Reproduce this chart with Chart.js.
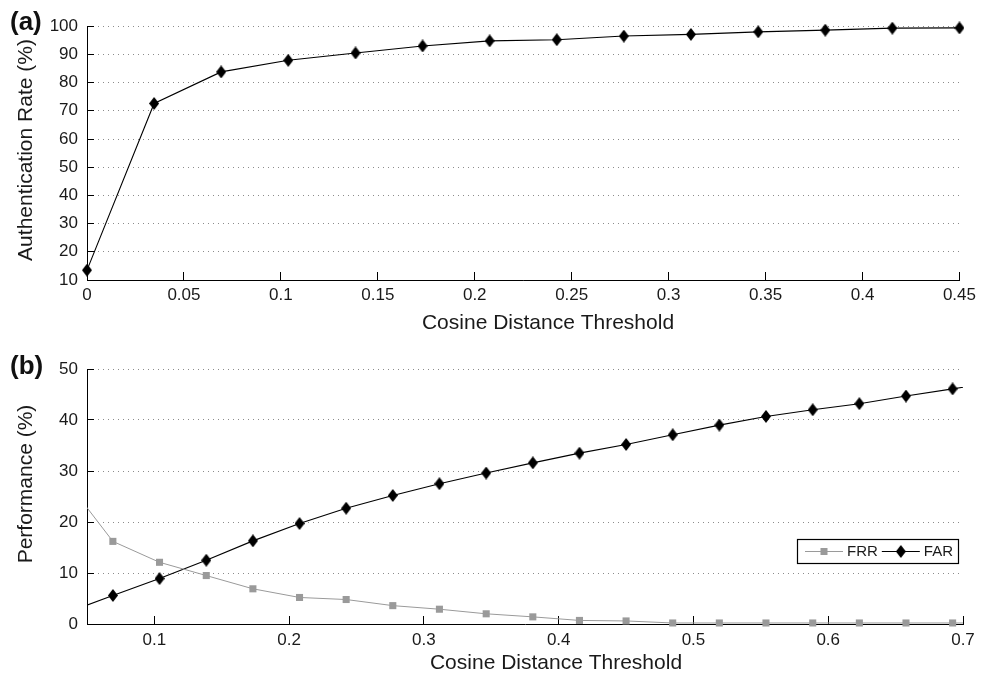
<!DOCTYPE html>
<html>
<head>
<meta charset="utf-8">
<script src="https://cdn.jsdelivr.net/npm/chart.js@4"></script>
<style>
  body { margin: 0; background: #fff; }
  #wrap { position: relative; width: 989px; height: 679px; }
  canvas { position: absolute; left: 0; }
</style>
</head>
<body>
<div id="wrap">
  <canvas id="graficoA" width="989" height="340" style="top:0"></canvas>
  <canvas id="graficoB" width="989" height="339" style="top:340px"></canvas>
</div>
<script>
// (a) taxa de autenticação x limiar
const limiaresA = [0, 0.0346, 0.0692, 0.1038, 0.1385, 0.1731, 0.2077, 0.2423, 0.2769, 0.3115, 0.3462, 0.3808, 0.4154, 0.45];
const taxaAutenticacao = [13.5, 72.6, 83.8, 87.9, 90.5, 93.0, 94.8, 95.2, 96.5, 97.1, 98.0, 98.6, 99.3, 99.4];
const ticksXA = [0, 0.05, 0.1, 0.15, 0.2, 0.25, 0.3, 0.35, 0.4, 0.45];
const ticksYA = [10, 20, 30, 40, 50, 60, 70, 80, 90, 100];

// (b) FRR / FAR x limiar (primeiro e último ponto ficam fora do eixo)
const limiaresB = [0.0346, 0.0692, 0.1038, 0.1385, 0.1731, 0.2077, 0.2423, 0.2769, 0.3115, 0.3462, 0.3808,
                   0.4154, 0.45, 0.4846, 0.5192, 0.5538, 0.5885, 0.6231, 0.6577, 0.6923, 0.7269];
const frr = [28.1, 16.2, 12.1, 9.5, 6.9, 5.2, 4.8, 3.6, 2.9, 2.0, 1.4, 0.7, 0.6, 0.2, 0.2, 0.2, 0.2, 0.2, 0.2, 0.2, 0.2];
const far = [2.2, 5.6, 8.9, 12.5, 16.3, 19.7, 22.7, 25.2, 27.5, 29.6, 31.6, 33.5, 35.2, 37.1, 39.0, 40.7, 42.0, 43.2, 44.7, 46.1, 47.5];
const ticksXB = [0.1, 0.2, 0.3, 0.4, 0.5, 0.6, 0.7];
const ticksYB = [0, 10, 20, 30, 40, 50];

const FONTE = '"Liberation Sans", Arial, Helvetica, sans-serif';
Chart.defaults.font.family = FONTE;
Chart.defaults.color = '#1a1a1a';

// marcador em losango (mais alto que largo)
function losango(larg, alt, cor) {
    const c = document.createElement('canvas');
    c.width = larg; c.height = alt;
    const g = c.getContext('2d');
    g.fillStyle = cor;
    g.beginPath();
    g.moveTo(larg / 2, 0); g.lineTo(larg, alt / 2); g.lineTo(larg / 2, alt); g.lineTo(0, alt / 2);
    g.closePath(); g.fill();
    return c;
}
const diamante = losango(10, 13, '#000');

function pontos(xs, ys) { return xs.map((x, i) => ({ x: x, y: ys[i] })); }
function fixarTicks(lista) { return s => { s.ticks = lista.map(v => ({ value: v })); }; }

function eixoX(min, max, lista, altura, padTicks) {
    return {
        type: 'linear', min: min, max: max,
        afterBuildTicks: fixarTicks(lista),
        afterFit: s => { s.height = altura; },
        border: { color: '#000', width: 1 },
        grid: { drawOnChartArea: false, drawTicks: true, tickLength: -8, tickColor: '#000', tickWidth: 1 },
        ticks: { padding: padTicks, font: { size: 17 }, maxRotation: 0, callback: v => String(+v.toFixed(3)) },
        title: { display: false }
    };
}
function eixoY(min, max, lista) {
    return {
        min: min, max: max,
        afterBuildTicks: fixarTicks(lista),
        afterFit: s => { s.width = 87; },
        border: { color: '#000', width: 1, dash: [1, 4] },
        grid: { color: '#8c8c8c', drawTicks: true, tickLength: -7,
                tickColor: '#000', tickBorderDash: [], tickWidth: 1 },
        ticks: { padding: 16, font: { size: 17 } }
    };
}

// rótulo do painel e títulos dos eixos
const textosPlugin = {
    id: 'textos',
    afterDraw(chart, args, o) {
        const c = chart.ctx;
        c.save();
        c.fillStyle = '#111';
        c.textBaseline = 'middle';
        c.textAlign = 'left';
        c.font = 'bold 26px ' + FONTE;
        c.fillText(o.painel, 10, o.painelY);
        c.font = '21px ' + FONTE;
        c.fillStyle = '#1a1a1a';
        c.textAlign = 'center';
        c.fillText(o.tituloX, o.tituloXx, o.tituloXy);
        c.translate(26, o.tituloYy);
        c.rotate(-Math.PI / 2);
        c.fillText(o.tituloY, 0, 0);
        c.restore();
    }
};

// legenda em linha, dentro da área do gráfico
const legendaPlugin = {
    id: 'legendaInterna',
    afterDraw(chart, args, o) {
        if (!o.mostrar) return;
        const c = chart.ctx;
        c.save();
        c.fillStyle = '#fff';
        c.fillRect(o.x, o.y, o.w, o.h);
        c.strokeStyle = '#000';
        c.lineWidth = 1.2;
        c.strokeRect(o.x + 0.5, o.y + 0.5, o.w, o.h);
        c.font = '15px ' + FONTE;
        c.textBaseline = 'middle';
        const ym = o.y + o.h / 2 + 0.5;
        let x = o.x + 8;
        chart.data.datasets.forEach(ds => {
            c.strokeStyle = ds.borderColor;
            c.lineWidth = ds.borderWidth;
            c.beginPath(); c.moveTo(x, ym); c.lineTo(x + 38, ym); c.stroke();
            const mx = x + 19;
            if (ds.pointStyle === 'rect') {
                c.fillStyle = ds.pointBackgroundColor;
                c.fillRect(mx - 3.5, ym - 3.5, 7, 7);
            } else {
                c.drawImage(ds.pointStyle, mx - ds.pointStyle.width / 2, ym - ds.pointStyle.height / 2);
            }
            c.fillStyle = '#1a1a1a';
            c.fillText(ds.label, x + 42, ym);
            x += 42 + c.measureText(ds.label).width + 4;
        });
        c.restore();
    }
};

const graficoA = new Chart(document.getElementById('graficoA').getContext('2d'), {
    type: 'line',
    data: {
        datasets: [{
            label: 'Authentication Rate',
            data: pontos(limiaresA, taxaAutenticacao),
            borderColor: '#000',
            borderWidth: 1.1,
            pointStyle: diamante,
            pointBackgroundColor: '#000',
            pointRadius: 5,
            tension: 0,
            clip: 8
        }]
    },
    options: {
        responsive: false,
        animation: false,
        events: [],
        layout: { padding: { top: 25, right: 26, left: 0, bottom: 0 } },
        scales: {
            x: eixoX(0, 0.45, ticksXA, 60, 13),
            y: eixoY(10, 100, ticksYA)
        },
        plugins: {
            legend: { display: false },
            tooltip: { enabled: false },
            textos: { painel: '(a)', painelY: 23,
                      tituloX: 'Cosine Distance Threshold', tituloXx: 548, tituloXy: 323,
                      tituloY: 'Authentication Rate (%)', tituloYy: 150 },
            legendaInterna: { mostrar: false }
        }
    },
    plugins: [textosPlugin, legendaPlugin]
});

const graficoB = new Chart(document.getElementById('graficoB').getContext('2d'), {
    type: 'line',
    data: {
        datasets: [{
            label: 'FRR',
            data: pontos(limiaresB, frr),
            borderColor: '#9a9a9a',
            borderWidth: 1,
            pointStyle: 'rect',
            pointBackgroundColor: '#9a9a9a',
            pointBorderWidth: 0,
            pointRadius: 5,
            tension: 0,
            clip: { left: 0, right: 0, top: 8, bottom: 8 }
        }, {
            label: 'FAR',
            data: pontos(limiaresB, far),
            borderColor: '#000',
            borderWidth: 1.1,
            pointStyle: diamante,
            pointBackgroundColor: '#000',
            pointRadius: 5,
            tension: 0,
            clip: { left: 0, right: 0, top: 8, bottom: 8 }
        }]
    },
    options: {
        responsive: false,
        animation: false,
        events: [],
        layout: { padding: { top: 29, right: 26, left: 0, bottom: 0 } },
        scales: {
            x: eixoX(0.05, 0.7, ticksXB, 55, 14),
            y: eixoY(0, 50, ticksYB)
        },
        plugins: {
            legend: { display: false },
            tooltip: { enabled: false },
            textos: { painel: '(b)', painelY: 27,
                      tituloX: 'Cosine Distance Threshold', tituloXx: 556, tituloXy: 323,
                      tituloY: 'Performance (%)', tituloYy: 144 },
            legendaInterna: { mostrar: true, x: 797, y: 199, w: 161, h: 24 }
        }
    },
    plugins: [textosPlugin, legendaPlugin]
});
</script>
</body>
</html>
